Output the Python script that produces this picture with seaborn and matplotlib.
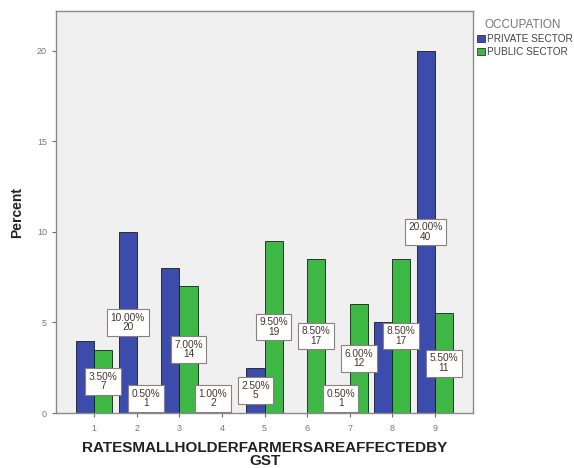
import matplotlib
matplotlib.use("Agg")
import matplotlib.pyplot as plt
import seaborn as sns
import pandas as pd

categories = ["1", "2", "3", "4", "5", "6", "7", "8", "9"]
private_pct = [4.0, 10.0, 8.0, 1.0, 2.5, 0.0, 0.5, 5.0, 20.0]
public_pct = [3.5, 0.5, 7.0, 0.0, 9.5, 8.5, 6.0, 8.5, 5.5]
series_names = ["PRIVATE SECTOR", "PUBLIC SECTOR"]

# Bars that carry a "percent / count" label: (category, series, percent, count)
labelled = [
    ("1", "PUBLIC SECTOR", 3.5, 7),
    ("2", "PRIVATE SECTOR", 10.0, 20),
    ("2", "PUBLIC SECTOR", 0.5, 1),
    ("3", "PUBLIC SECTOR", 7.0, 14),
    ("4", "PRIVATE SECTOR", 1.0, 2),
    ("5", "PRIVATE SECTOR", 2.5, 5),
    ("5", "PUBLIC SECTOR", 9.5, 19),
    ("6", "PUBLIC SECTOR", 8.5, 17),
    ("7", "PRIVATE SECTOR", 0.5, 1),
    ("7", "PUBLIC SECTOR", 6.0, 12),
    ("8", "PUBLIC SECTOR", 8.5, 17),
    ("9", "PRIVATE SECTOR", 20.0, 40),
    ("9", "PUBLIC SECTOR", 5.5, 11),
]

df = pd.DataFrame({
    "rate": categories * 2,
    "OCCUPATION": [series_names[0]] * len(categories) + [series_names[1]] * len(categories),
    "Percent": private_pct + public_pct,
})

sns.set_style("white")
plt.rcParams["font.family"] = ["Liberation Sans", "DejaVu Sans"]

fig = plt.figure(figsize=(5.74, 4.68), dpi=100)
ax = fig.add_axes([0.0976, 0.1175, 0.7265, 0.859])

palette = {series_names[0]: "#3B4CAD", series_names[1]: "#3DB845"}
width = 0.85
sns.barplot(data=df, x="rate", y="Percent", hue="OCCUPATION", order=categories,
            hue_order=series_names, palette=palette, width=width, dodge=True,
            edgecolor="#1a1a1a", linewidth=0.6, saturation=1, ax=ax, legend=False)

ax.set_facecolor("#F0F0F0")
ax.set_xlim(-0.9, 8.9)
ax.set_ylim(0, 22.2)
ax.set_yticks([0, 5, 10, 15, 20])
ax.set_yticklabels(["0", "5", "10", "15", "20"])
for sp in ax.spines.values():
    sp.set_color("#8a8a8a")
    sp.set_linewidth(1.0)
ax.tick_params(axis="both", which="both", direction="out", length=3, width=0.8,
               color="#6a6a6a", labelsize=6.5, labelcolor="#777777",
               bottom=True, left=True)
ax.tick_params(axis="x", pad=5)

ax.set_ylabel("Percent", fontsize=10, fontweight="bold", color="#222222", labelpad=9)
ax.set_xlabel("RATESMALLHOLDERFARMERSAREAFFECTEDBY\nGST", fontsize=11,
              fontweight="bold", color="#222222", labelpad=6, linespacing=0.9)

# value labels at the middle of each bar, kept above the baseline
half = width / 2
box_half = 0.8
for cat, series, pct, cnt in labelled:
    i = categories.index(cat)
    offset = -half / 2 if series == series_names[0] else half / 2
    y = max(pct / 2, box_half)
    ax.text(i + offset, y, f"{pct:.2f}%\n{cnt}", ha="center", va="center",
            fontsize=7.3, color="#4a3434", linespacing=0.95,
            bbox=dict(boxstyle="square,pad=0.35", facecolor="white",
                      edgecolor="#8a8080", linewidth=0.8))

handles = [matplotlib.patches.Patch(facecolor=palette[s], edgecolor="#1a1a1a",
                                    linewidth=0.5) for s in series_names]
leg = fig.legend(handles, series_names, title="OCCUPATION", loc="upper left",
                 bbox_to_anchor=(0.824, 0.968), frameon=False, fontsize=7.2,
                 title_fontsize=8.5, handlelength=0.8, handleheight=0.8,
                 handletextpad=0.2, labelspacing=0.3, borderaxespad=0)
leg.get_title().set_color("#777777")
leg._legend_box.align = "left"
leg.get_title().set_position((8, 0))
for t in leg.get_texts():
    t.set_color("#444444")

fig.savefig("out.png", dpi=100, facecolor="white")
